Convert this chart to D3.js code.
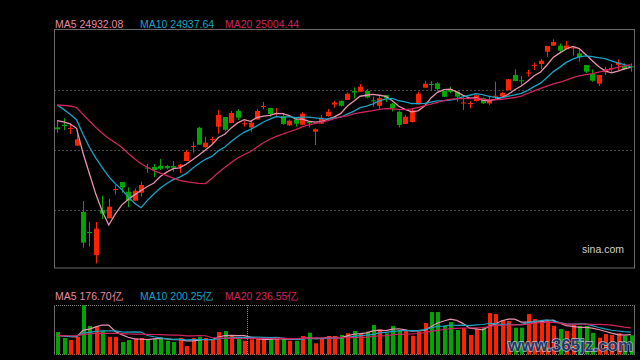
<!DOCTYPE html>
<html><head><meta charset="utf-8">
<script src="https://cdn.jsdelivr.net/npm/d3@7/dist/d3.min.js"></script>
<style>html,body{margin:0;background:#000;} svg{display:block}</style>
</head><body>
<svg id="c" width="640" height="360"></svg>
<script>
// ---- data (index points, volume in 亿) ----
const openP  = [23729,23775,23695,23361,22035,21635,21175,22075,21909,22475,22635,22441,22261,22421,22925,22935,22961,22955,22955,22935,23055,23335,23721,23329,23475,23741,23935,23815,24055,23789,23725,23885,24135,24115,23995,23955,23769,23881,23781,23841,23641,23801,23955,24185,24259,24275,24455,24441,24455,24269,24159,24371,24201,24041,23795,23835,24189,24521,24595,24609,24459,24489,24441,24211,24201,24255,24309,24205,24345,24345,24475,24775,24669,24811,24965,24995,25241,25361,25361,25291,25309,25209,24975,24795,24601,24829,24901,24979,24955,24949];
const highP  = [23875,23909,23795,23595,22255,21835,21835,22355,22301,22575,22635,22529,22509,22641,22995,22995,23095,22975,23055,22995,23275,23441,23741,23541,23541,24075,23935,24055,24089,23861,23861,24089,24235,24121,24115,24009,23885,23935,24029,23855,23709,23975,24095,24255,24265,24425,24525,24595,24489,24345,24375,24371,24215,24061,23975,24095,24441,24661,24655,24635,24459,24541,24441,24329,24249,24369,24325,24341,24641,24435,24695,24889,24755,24875,25021,25095,25355,25489,25405,25455,25355,25309,24975,24889,24775,24941,24995,25089,25009,25009];
const lowP   = [23621,23675,23595,23361,21321,21341,21009,21895,21909,22389,22421,22129,22261,22341,22815,22735,22875,22885,22841,22815,23055,23221,23375,23321,23395,23601,23655,23815,23875,23741,23641,23885,24089,23941,23961,23781,23755,23741,23769,23725,23375,23795,23941,24121,24145,24275,24305,24441,24309,24141,24081,24235,24045,23729,23795,23825,24189,24521,24461,24461,24335,24409,24241,24075,24109,24245,24195,24175,24295,24335,24465,24655,24585,24741,24875,24895,25141,25361,25215,25291,25161,25041,24815,24641,24555,24775,24821,24875,24875,24841];
const closeP = [23689,23755,23715,23489,21421,21615,21701,22001,22141,22495,22529,22261,22461,22575,22905,22875,22901,22909,22921,22981,23235,23355,23381,23421,23495,23975,23681,24015,23921,23809,23821,24055,24155,23995,24015,23795,23861,23801,24001,23809,23689,23921,24041,24225,24159,24401,24425,24541,24325,24249,24311,24311,24105,23775,23941,24065,24401,24601,24575,24495,24341,24441,24341,24225,24215,24369,24209,24275,24361,24415,24689,24655,24655,24825,24979,25061,25355,25435,25261,25361,25325,25129,24841,24661,24775,24889,24915,25021,24889,24935];
const volume = [200,147,129,158,441,254,247,212,158,158,111,129,144,147,135,141,153,123,111,147,76,147,158,147,129,200,209,165,141,123,135,141,135,135,147,141,123,123,165,194,100,139,165,165,174,189,209,189,203,263,224,189,254,218,209,167,203,280,378,378,254,289,218,236,174,227,239,369,360,307,298,239,239,360,316,298,298,256,227,209,263,254,254,194,150,182,174,189,165,171];
// closes / volumes of the 19 sessions before the first visible one (estimated, for the moving averages)
const priorClose  = [23915,23955,24075,24195,24275,24315,24275,24235,24215,24295,24635,24675,24595,24315,24221,23875,23915,23935,23895];
const priorVolume = [172,160,185,178,150,168,190,175,162,158,181,170,165,155,176,172,160,168,150];
const maPeriods = [5,10,20];
const priceLegend  = ["MA5 24932.08","MA10 24937.64","MA20 25004.44"];
const volumeLegend = ["MA5 176.70亿","MA10 200.25亿","MA20 236.55亿"];
const priceDomain = [20875,25675];
const siteLabel = "sina.com";
const watermark = "www.365jz.com";

// ---- styles ----
const W=640,H=360;
const L=54,R=634;
const mainTop=30,mainBot=270;
const volTop=305,volBot=355;
const UP="#ff2200",DOWN="#00a600";
const maColors=["#e993b0","#1aa3c4","#d0245f"];
const maText=["#e58aa7","#1aa3c4","#d0245f"];
const FONT="Liberation Sans, Arial, sans-serif";

const svg=d3.select("#c");
svg.append("rect").attr("width",W).attr("height",H).attr("fill","#000");

const n=closeP.length;
const x=d3.scaleBand().domain(d3.range(n)).range([L,R]).paddingInner(0.3).paddingOuter(0.15);
const cx=i=>x(i)+x.bandwidth()/2;
const y=d3.scaleLinear().domain(priceDomain).range([mainBot,mainTop]);
const yv=d3.scaleLinear().domain([0,d3.max(volume)]).range([volBot-0.5,volTop]);

function ma(prior,vals,p){
  const all=prior.concat(vals),off=prior.length;
  return vals.map((_,i)=>d3.mean(all.slice(off+i-p+1,off+i+1)));
}

// main panel grid
const gTicks=[1,2,3].map(k=>priceDomain[0]+(priceDomain[1]-priceDomain[0])*k/4);
svg.append("g").selectAll("line").data(gTicks).join("line")
  .attr("x1",L).attr("x2",R).attr("y1",d=>Math.round(y(d))+0.5).attr("y2",d=>Math.round(y(d))+0.5)
  .attr("stroke","#4a4a4a").attr("stroke-width",1).attr("stroke-dasharray","2,2");

// main border
svg.append("rect").attr("x",L+0.5).attr("y",mainTop-0.5).attr("width",R-L).attr("height",mainBot-mainTop-1.5)
  .attr("fill","none").attr("stroke","#6a6a6a");

// candles
const cg=svg.append("g");
d3.range(n).forEach(i=>{
  const up=closeP[i]>=openP[i];
  const col=up?UP:DOWN;
  const xc=Math.round(cx(i))+0.5;
  cg.append("line").attr("x1",xc).attr("x2",xc).attr("y1",y(highP[i])).attr("y2",y(lowP[i])).attr("stroke",col);
  const top=y(Math.max(openP[i],closeP[i])),bot=y(Math.min(openP[i],closeP[i]));
  cg.append("rect").attr("x",xc-2.5).attr("width",5).attr("y",top).attr("height",Math.max(1,bot-top)).attr("fill",col);
});

// MA lines
const line=d3.line().x((d,i)=>cx(i)).y(d=>y(d));
maPeriods.forEach((p,k)=>{
  svg.append("path").attr("d",line(ma(priorClose,closeP,p))).attr("fill","none")
    .attr("stroke",maColors[k]).attr("stroke-width",1.3);
});

// legends
const legX=[55,140,225];
priceLegend.forEach((t,k)=>svg.append("text").attr("x",legX[k]).attr("y",27.5).text(t)
  .attr("fill",maText[k]).attr("font-family",FONT).attr("font-size",10.5));
volumeLegend.forEach((t,k)=>svg.append("text").attr("x",legX[k]).attr("y",299.5).text(t)
  .attr("fill",maText[k]).attr("font-family",FONT).attr("font-size",10.5));

svg.append("text").attr("x",624).attr("y",252.5).attr("text-anchor","end").text(siteLabel)
  .attr("fill","#cfcfcf").attr("font-family",FONT).attr("font-size",10.5);

// volume panel
const vb=svg.append("g");
vb.append("line").attr("x1",L).attr("x2",R).attr("y1",volTop+0.5).attr("y2",volTop+0.5).attr("stroke","#8a8a8a").attr("stroke-dasharray","1,1");
vb.append("line").attr("x1",L).attr("x2",R).attr("y1",volBot-0.5).attr("y2",volBot-0.5).attr("stroke","#8a8a8a").attr("stroke-dasharray","1,1");
vb.append("line").attr("x1",L+0.5).attr("x2",L+0.5).attr("y1",volTop).attr("y2",volBot).attr("stroke","#6a6a6a");
vb.append("line").attr("x1",R+0.5).attr("x2",R+0.5).attr("y1",volTop).attr("y2",volBot).attr("stroke","#6a6a6a");
const sepX=Math.round((cx(29)+cx(30))/2)+0.5;
vb.append("line").attr("x1",sepX).attr("x2",sepX).attr("y1",volTop).attr("y2",volBot).attr("stroke","#8a8a8a").attr("stroke-dasharray","1,1");

svg.append("g").selectAll("rect").data(volume).join("rect")
  .attr("x",(d,i)=>Math.round(cx(i))-1).attr("width",4)
  .attr("y",d=>yv(d)).attr("height",d=>yv(0)-yv(d))
  .attr("fill",(d,i)=>closeP[i]>=openP[i]?UP:DOWN);

const vline=d3.line().x((d,i)=>cx(i)).y(d=>yv(d));
maPeriods.forEach((p,k)=>{
  svg.append("path").attr("d",vline(ma(priorVolume,volume,p))).attr("fill","none")
    .attr("stroke",maColors[k]).attr("stroke-width",1.2);
});

// watermark
svg.append("text").attr("x",633).attr("y",351).attr("text-anchor","end").text(watermark)
  .attr("font-family",FONT).attr("font-weight","bold").attr("font-size",17)
  .attr("fill","#1d3c70").attr("stroke","#b8c4d4").attr("stroke-width",1.4).attr("paint-order","stroke")
  .attr("opacity",0.9);
</script>
</body></html>
